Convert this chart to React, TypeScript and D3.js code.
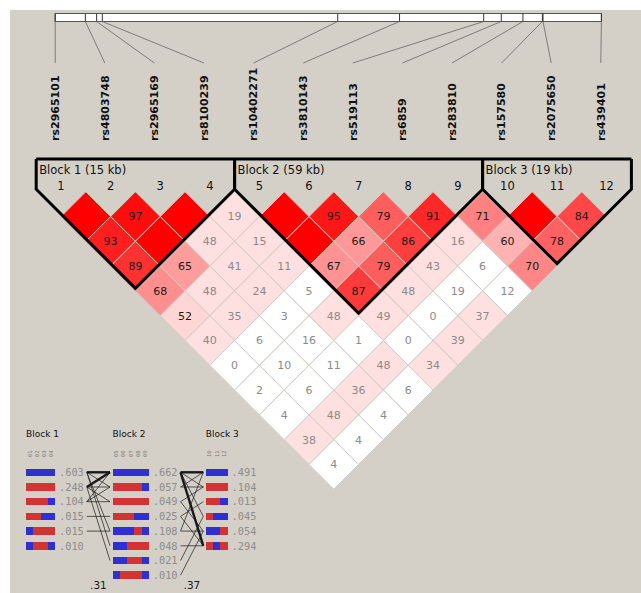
import React from "react";
import * as d3 from "d3";

// ---------- DATA ----------
const snpNames = [
  "rs2965101", "rs4803748", "rs2965169", "rs8100239", "rs10402271", "rs3810143",
  "rs519113", "rs6859", "rs283810", "rs157580", "rs2075650", "rs439401",
];
// relative physical positions (kb)
const snpPosKb = [0, 9.6, 13.2, 15.0, 90.0, 109.7, 136.5, 142.1, 149.0, 155.2, 155.4, 174.0];

// D' x100; row k holds pairs (i, i+k+1)
const dPrimeRows = [
  [100, 97, 100, 19, 100, 95, 79, 91, 71, 100, 84],
  [93, 100, 48, 15, 100, 66, 86, 16, 60, 78],
  [89, 65, 41, 11, 67, 79, 43, 6, 70],
  [68, 48, 24, 5, 87, 48, 19, 12],
  [52, 35, 3, 48, 49, 0, 37],
  [40, 6, 16, 1, 0, 39],
  [0, 10, 11, 48, 34],
  [2, 6, 36, 6],
  [4, 48, 4],
  [38, 4],
  [4],
];
// LOD >= 2 flags (same layout)
const lodSignificant = [
  [1, 1, 1, 1, 1, 1, 1, 1, 1, 1, 1],
  [1, 1, 1, 1, 1, 1, 1, 1, 1, 1],
  [1, 1, 1, 1, 1, 1, 1, 0, 1],
  [1, 1, 1, 0, 1, 1, 0, 0],
  [1, 1, 0, 1, 1, 0, 1],
  [1, 0, 0, 0, 0, 1],
  [0, 0, 0, 1, 1],
  [0, 0, 1, 0],
  [0, 1, 0],
  [1, 0],
  [0],
];

const blockStarts = [0, 4, 9];
const blockEnds = [3, 8, 11];
const blockNames = ["Block 1", "Block 2", "Block 3"];
const blockSizesKb = [15, 59, 19];

// haplotypes: 1 = blue allele, 2 = red allele
const hapBlock1 = ["1111", "2222", "2221", "2211", "1222", "1221"];
const hapFreq1 = [0.603, 0.248, 0.104, 0.015, 0.015, 0.01];
const hapBlock2 = ["11111", "22221", "22222", "22211", "11121", "11222", "11221", "12221"];
const hapFreq2 = [0.662, 0.057, 0.049, 0.025, 0.108, 0.048, 0.021, 0.01];
const hapBlock3 = ["111", "222", "221", "211", "112", "212"];
const hapFreq3 = [0.491, 0.104, 0.013, 0.045, 0.054, 0.294];

// crossings [fromHap, toHap, thick(1)/thin(0)]
const links12 = [
  [0, 0, 1], [1, 0, 1], [0, 1, 0], [0, 4, 0], [0, 5, 0], [1, 1, 0], [1, 2, 0],
  [1, 6, 0], [2, 0, 0], [2, 1, 0], [2, 2, 0], [3, 3, 0], [4, 4, 0],
];
const links23 = [
  [0, 0, 1], [0, 5, 1], [0, 1, 0], [0, 3, 0], [1, 0, 0], [1, 1, 0], [2, 1, 0],
  [2, 4, 0], [3, 2, 0], [3, 5, 0], [4, 4, 0], [4, 0, 0], [5, 5, 0], [6, 3, 0], [7, 4, 0],
];
const multiAllelicD = [0.31, 0.37];

// ---------- COMPONENT ----------
export default function App() {
  const W = 641;
  const H = 593;
  const col = d3.scaleLinear().domain([0, 11]).range([61, 606.6]);
  const hw = (col(1) - col(0)) / 2;
  const pos = d3.scaleLinear().domain([0, 174]).range([55.2, 601.4]);
  const topY = 191.7;
  const boxTop = 159;
  const font = "'DejaVu Sans', Verdana, sans-serif";
  const mono = "'DejaVu Sans Mono', monospace";

  const cellColor = (d: number, sig: number) => {
    if (sig) {
      if (d < 50) return "rgb(255,224,224)";
      const g = Math.min(255, Math.round(446 * (1 - d / 100)));
      return `rgb(255,${g},${g})`;
    }
    if (d >= 100) return "rgb(192,192,240)";
    return "#ffffff";
  };

  const cells: any[] = [];
  dPrimeRows.forEach((row, k) => {
    row.forEach((d, i) => {
      const j = i + k + 1;
      const cx = (col(i) + col(j)) / 2;
      const cy = topY + (k + 1) * hw;
      cells.push({ cx, cy, d, sig: lodSignificant[k][i], key: `${i}-${j}` });
    });
  });

  const fmt = (v: number) => d3.format(".3f")(v).replace(/^0/, "");
  const fmt2 = (v: number) => d3.format(".2f")(v).replace(/^0/, "");

  // haplotype layout
  const segW = 7.25;
  const barH = 7.5;
  const hapY = d3.scaleLinear().domain([0, 1]).range([472.3, 487]);
  const hapX = [26, 112.5, 205.8];
  const haps = [hapBlock1, hapBlock2, hapBlock3];
  const freqs = [hapFreq1, hapFreq2, hapFreq3];
  const blue = "#2f2fd2";
  const red = "#d23434";
  const freqTextW = 24.8;
  const linkStart = (b: number) => hapX[b] + haps[b][0].length * segW + 4 + freqTextW + 3;
  const linkEnd = (b: number) => hapX[b] - 2.5;
  const markerOffset = [0, 4, 9];

  // merge consecutive identical alleles into runs
  const runs = (h: string) => {
    const out: { start: number; len: number; a: string }[] = [];
    h.split("").forEach((a, m) => {
      const last = out[out.length - 1];
      if (last && last.a === a) last.len += 1;
      else out.push({ start: m, len: 1, a });
    });
    return out;
  };

  const outline = (s: number, e: number) => {
    const off = -2.5;
    const xl = col(s) - hw;
    const xr = col(e) + hw;
    const bx = (col(s) + col(e)) / 2;
    const by = topY + (e - s + 1) * hw + off;
    return `M${xl},${boxTop} L${xl},${topY + off} L${bx},${by} L${xr},${topY + off} L${xr},${boxTop}`;
  };

  return (
    <svg
      width={W}
      height={H}
      style={{ position: "absolute", left: 0, top: 0, display: "block" }}
      xmlns="http://www.w3.org/2000/svg"
    >
      <rect x={0} y={0} width={W} height={H} fill="#ffffff" />
      <rect x={10} y={10} width={W - 10} height={H - 10} fill="#d4d0c8" />

      {/* physical map */}
      <rect x={pos(0)} y={13.5} width={pos(174) - pos(0)} height={8} fill="#ffffff" stroke="#555" strokeWidth={1} />
      {snpPosKb.map((p, i) => (
        <line key={"t" + i} x1={pos(p)} x2={pos(p)} y1={13.5} y2={21.5} stroke="#333" strokeWidth={1} />
      ))}
      {snpPosKb.map((p, i) => (
        <line key={"c" + i} x1={pos(p)} y1={21.5} x2={col(i) - 5.8} y2={63} stroke="#666" strokeWidth={0.8} />
      ))}
      {snpNames.map((n, i) => (
        <text
          key={"n" + i}
          transform={`translate(${col(i) - 5.8},141) rotate(-90)`}
          dy="0.35em"
          fontFamily={font}
          fontSize={11}
          fontWeight="bold"
          fill="#111"
        >
          {n}
        </text>
      ))}

      {/* LD cells */}
      {cells.map((c) => (
        <g key={c.key}>
          <path
            d={`M${c.cx},${c.cy - hw} L${c.cx + hw},${c.cy} L${c.cx},${c.cy + hw} L${c.cx - hw},${c.cy} Z`}
            fill={cellColor(c.d, c.sig)}
            stroke="#d0ccc4"
            strokeWidth={1}
          />
          {c.d < 100 && (
            <text
              x={c.cx}
              y={c.cy}
              dy="0.36em"
              textAnchor="middle"
              fontFamily={font}
              fontSize={11}
              fill={c.d >= 50 ? "#1a1a1a" : "#8a8a8a"}
            >
              {c.d}
            </text>
          )}
        </g>
      ))}

      {/* block outlines */}
      <line x1={col(0) - hw} x2={col(11) + hw} y1={boxTop} y2={boxTop} stroke="#000" strokeWidth={3} />
      {blockStarts.map((s, b) => (
        <path key={"o" + b} d={outline(s, blockEnds[b])} fill="none" stroke="#000" strokeWidth={3} strokeLinejoin="miter" />
      ))}
      {blockStarts.map((s, b) => (
        <text key={"bl" + b} x={col(s) - hw + 3} y={174} fontFamily={font} fontSize={11.5} fill="#111">
          {`${blockNames[b]} (${blockSizesKb[b]} kb)`}
        </text>
      ))}
      {snpNames.map((_, i) => (
        <text key={"num" + i} x={col(i)} y={189.5} textAnchor="middle" fontFamily={font} fontSize={11.5} fill="#111">
          {i + 1}
        </text>
      ))}

      {/* haplotypes */}
      {haps.map((hb, b) => (
        <g key={"hb" + b}>
          <text x={hapX[b]} y={437} fontFamily={font} fontSize={9} fill="#111">
            {blockNames[b]}
          </text>
          {hb[0].split("").map((_, m) => (
            <text
              key={"mk" + m}
              transform={`translate(${hapX[b] + segW * (m + 0.5)},457) rotate(-90)`}
              dy="0.35em"
              fontFamily={mono}
              fontSize={5.5}
              fill="#777"
            >
              {String(markerOffset[b] + m + 1).padStart(2, "0")}
            </text>
          ))}
          {hb.map((h, r) => (
            <g key={"h" + r}>
              {runs(h).map((run) => (
                <rect
                  key={run.start}
                  x={hapX[b] + run.start * segW}
                  y={hapY(r) - barH / 2}
                  width={run.len * segW}
                  height={barH}
                  fill={run.a === "1" ? blue : red}
                  shapeRendering="crispEdges"
                />
              ))}
              <text
                x={hapX[b] + h.length * segW + 4}
                y={hapY(r)}
                dy="0.36em"
                fontFamily={mono}
                fontSize={10.3}
                fill="#8c8c8c"
              >
                {fmt(freqs[b][r])}
              </text>
            </g>
          ))}
        </g>
      ))}

      {/* crossing lines */}
      {[links12, links23].map((ls, g) => (
        <g key={"lk" + g}>
          {ls.map(([a, bb, t], i) => (
            <line
              key={i}
              x1={linkStart(g)}
              y1={hapY(a)}
              x2={linkEnd(g + 1)}
              y2={hapY(bb)}
              stroke="#1a1a1a"
              strokeWidth={t ? 2.4 : 0.7}
            />
          ))}
          <text
            x={(linkStart(g) + linkEnd(g + 1)) / 2}
            y={589}
            textAnchor="middle"
            fontFamily={font}
            fontSize={10.5}
            fill="#1a1a1a"
          >
            {fmt2(multiAllelicD[g])}
          </text>
        </g>
      ))}
    </svg>
  );
}
